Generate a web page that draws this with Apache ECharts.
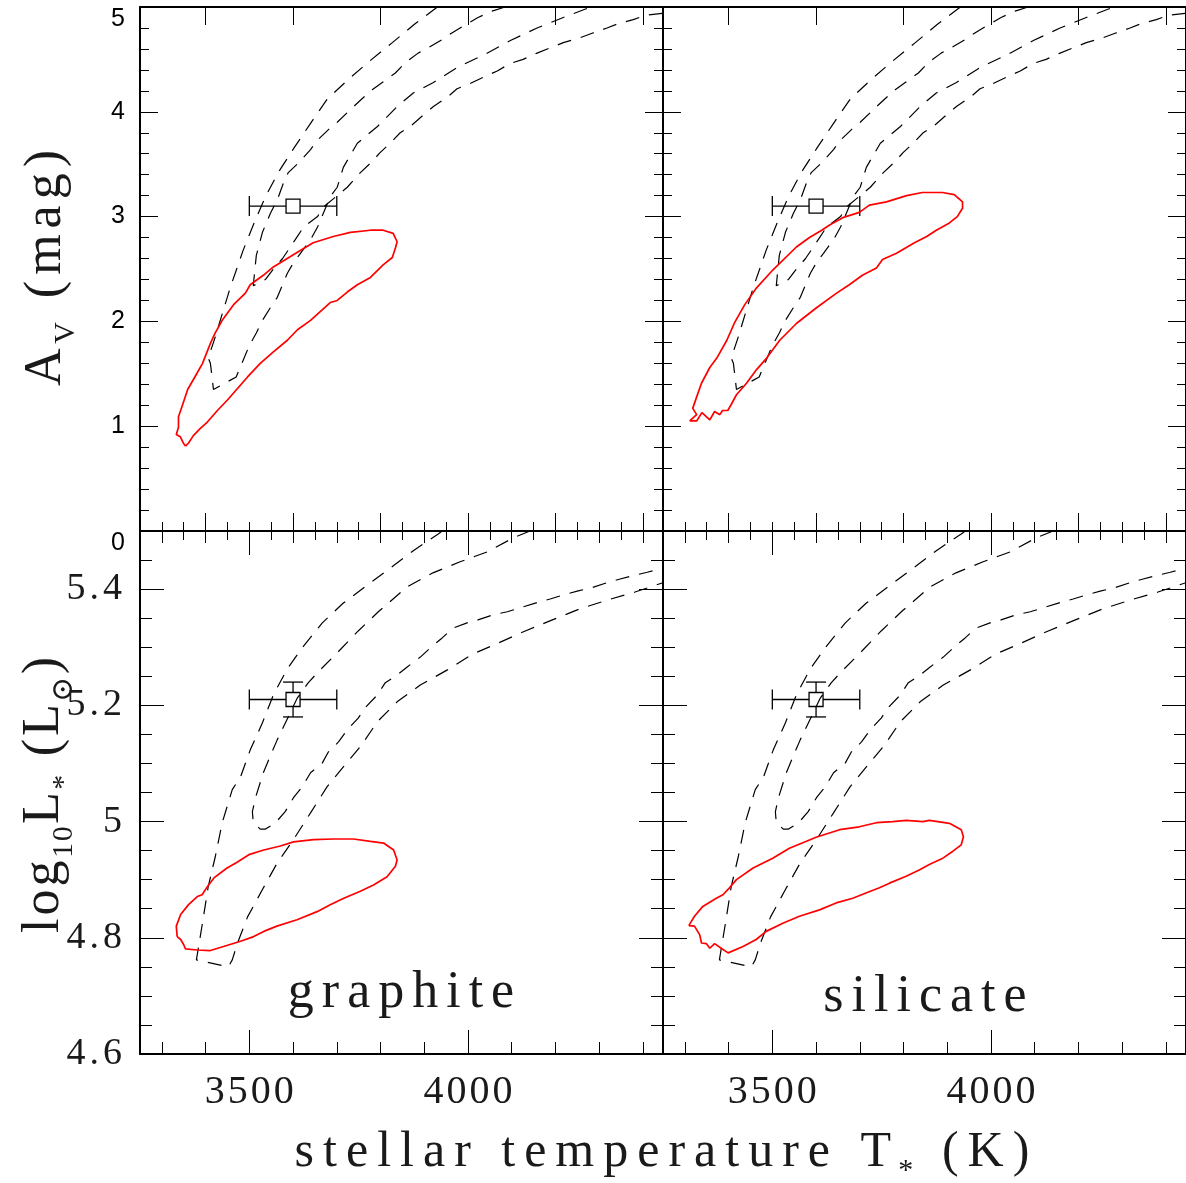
<!DOCTYPE html>
<html>
<head>
<meta charset="utf-8">
<script src="https://cdn.jsdelivr.net/npm/echarts@6/dist/echarts.min.js"></script>
<style>
  html, body { margin: 0; padding: 0; background: #fff; }
  #chart { width: 1186px; height: 1183px; }
</style>
</head>
<body>
<div id="chart"></div>
<script>
// ---------------------------------------------------------------------------
// Axis ranges and tick labels
// ---------------------------------------------------------------------------
const tempMin = 3250, tempMax = 4446;       // stellar temperature (K)
const avMin = 0, avMax = 5;                 // extinction A_V (mag)
const lumMin = 4.6, lumMax = 5.5;           // log10 L* (Lsun)

const tempLabels = [3500, 4000];
const avLabels = [0, 1, 2, 3, 4, 5];
const lumLabels = [4.6, 4.8, 5, 5.2, 5.4];

// Observed star: temperature, A_V and luminosity with their errors
const obsTemp = 3600, obsTempErr = 100;
const obsAv = 3.1, obsAvErr = 0;
const obsLum = 5.21, obsLumErr = 0.03;

// ---------------------------------------------------------------------------
// Constraint bands (dashed), [T, value]
// ---------------------------------------------------------------------------
const avOuterBand = [
  [3930,5.00],[3879,4.84],[3827,4.66],[3774,4.48],[3724,4.30],[3678,4.12],[3640,3.89],
  [3603,3.66],[3566,3.42],[3537,3.19],[3514,2.97],[3486,2.68],[3457,2.33],[3443,2.14],
  [3422,1.85],[3406,1.65],[3411,1.60],[3418,1.35],
  [3470,1.47],[3486,1.63],[3500,1.77],[3516,1.89],[3530,2.01],[3548,2.13],[3564,2.23],
  [3587,2.46],[3601,2.56],[3617,2.65],[3640,2.78],[3656,2.90],[3685,3.19],[3701,3.28],
  [3715,3.47],[3747,3.70],[3793,3.86],[3838,4.05],[3875,4.18],[3921,4.28],[3978,4.43],
  [4035,4.54],[4097,4.68],[4158,4.80],[4218,4.90],[4275,4.99],[4291,5.00]
];
const avInnerBand = [
  [4085,5.00],[4055,4.96],[4023,4.90],[3998,4.84],[3966,4.76],[3941,4.69],[3909,4.61],
  [3886,4.56],[3857,4.47],[3834,4.37],[3804,4.28],[3781,4.21],[3754,4.11],[3731,4.02],
  [3701,3.90],[3681,3.83],[3656,3.73],[3640,3.64],[3612,3.51],[3589,3.42],[3578,3.32],
  [3564,3.16],[3548,3.03],[3530,2.85],[3516,2.63],[3509,2.34],
  [3537,2.40],[3555,2.50],[3576,2.60],[3605,2.78],[3624,2.90],[3656,3.00],[3669,3.09],
  [3724,3.28],[3754,3.42],[3777,3.51],[3799,3.61],[3822,3.70],[3845,3.80],[3868,3.86],
  [3898,3.97],[3921,4.05],[3953,4.14],[3975,4.22],[4005,4.27],[4035,4.33],[4067,4.39],
  [4096,4.46],[4126,4.50],[4158,4.56],[4188,4.61],[4218,4.66],[4252,4.70],[4284,4.75],
  [4318,4.80],[4343,4.84],[4378,4.88],[4405,4.92],[4444,4.94]
];
const lumOuterBand = [
  [3941,5.500],[3932,5.495],[3875,5.466],[3822,5.436],[3770,5.407],[3715,5.376],[3667,5.342],
  [3624,5.302],[3587,5.263],[3555,5.218],[3530,5.170],[3502,5.123],[3480,5.077],[3461,5.055],
  [3438,4.998],[3422,4.939],[3406,4.888],[3393,4.826],[3379,4.762],
  [3452,4.750],
  [3461,4.762],[3473,4.791],[3496,4.836],[3530,4.883],[3564,4.929],[3601,4.969],[3640,5.015],
  [3678,5.060],[3715,5.094],[3754,5.129],[3793,5.172],[3838,5.206],[3891,5.235],[3953,5.261],
  [4010,5.288],[4069,5.307],[4131,5.328],[4193,5.347],[4256,5.366],[4318,5.381],[4382,5.395],
  [4446,5.411]
];
const lumInnerBand = [
  [4142,5.500],[4103,5.488],[4044,5.464],[3982,5.447],[3920,5.428],[3861,5.404],[3795,5.361],
  [3749,5.328],[3703,5.292],[3658,5.258],[3635,5.239],[3610,5.213],[3589,5.180],[3564,5.141],
  [3548,5.113],[3532,5.084],[3514,5.041],[3507,5.017],[3509,4.999],
  [3525,4.987],[3537,4.987],
  [3560,4.998],[3582,5.017],[3601,5.041],[3621,5.060],[3640,5.084],[3667,5.101],[3681,5.120],
  [3704,5.137],[3724,5.158],[3749,5.178],[3765,5.196],[3793,5.218],[3811,5.239],[3838,5.252],
  [3861,5.266],[3891,5.283],[3914,5.299],[3941,5.316],[3966,5.333],[3998,5.342],[4023,5.347],
  [4058,5.356],[4090,5.361],[4124,5.369],[4154,5.376],[4188,5.383],[4218,5.390],[4252,5.397],
  [4282,5.402],[4318,5.411],[4346,5.417],[4382,5.424],[4410,5.429],[4446,5.436]
];

// ---------------------------------------------------------------------------
// Best-fit confidence contours (red), [T, value]
// ---------------------------------------------------------------------------
const avGraphite = [
  [3354,0.81],[3349,0.84],[3342,0.90],[3333,0.92],[3338,0.99],[3338,1.09],[3347,1.20],
  [3359,1.35],[3381,1.51],[3393,1.60],[3411,1.79],[3422,1.89],[3438,2.01],[3464,2.16],
  [3491,2.27],[3502,2.35],[3532,2.44],[3555,2.52],[3610,2.66],[3646,2.75],[3692,2.81],
  [3731,2.85],[3777,2.87],[3806,2.87],[3829,2.84],[3838,2.76],[3834,2.70],[3827,2.61],
  [3806,2.54],[3777,2.42],[3747,2.35],[3724,2.28],[3701,2.20],[3685,2.18],[3640,2.01],
  [3610,1.92],[3587,1.82],[3555,1.71],[3525,1.60],[3496,1.47],[3450,1.25],[3427,1.15],
  [3404,1.04],[3388,0.98],[3372,0.91],[3361,0.84],[3354,0.81]
];
const avSilicate = [
  [3311,1.05],[3327,1.11],[3318,1.17],[3327,1.28],[3338,1.41],[3357,1.56],[3373,1.65],
  [3396,1.82],[3414,1.99],[3437,2.16],[3464,2.32],[3501,2.49],[3555,2.71],[3585,2.80],
  [3613,2.87],[3631,2.92],[3661,2.99],[3699,3.04],[3722,3.11],[3761,3.14],[3807,3.20],
  [3843,3.23],[3889,3.23],[3916,3.21],[3935,3.14],[3935,3.08],[3923,3.00],[3905,2.94],
  [3875,2.87],[3853,2.81],[3825,2.75],[3784,2.65],[3752,2.59],[3738,2.51],[3706,2.44],
  [3676,2.35],[3647,2.27],[3601,2.13],[3555,1.98],[3517,1.82],[3487,1.65],[3464,1.54],
  [3441,1.41],[3418,1.30],[3405,1.20],[3398,1.15],[3386,1.15],[3380,1.11],[3368,1.14],
  [3357,1.06],[3339,1.13],[3327,1.05],[3311,1.05]
];
const lumGraphite = [
  [3335,4.802],[3333,4.820],[3343,4.840],[3361,4.857],[3381,4.871],[3392,4.874],[3404,4.888],
  [3419,4.903],[3449,4.920],[3472,4.930],[3499,4.943],[3533,4.951],[3571,4.958],[3601,4.965],
  [3647,4.969],[3693,4.970],[3738,4.970],[3777,4.966],[3807,4.963],[3830,4.951],[3838,4.934],
  [3834,4.923],[3815,4.905],[3784,4.891],[3754,4.880],[3716,4.868],[3685,4.857],[3655,4.845],
  [3609,4.831],[3563,4.820],[3533,4.811],[3510,4.802],[3480,4.794],[3441,4.785],[3411,4.778],
  [3381,4.779],[3354,4.781],[3350,4.788],[3343,4.797],[3335,4.802]
];
const lumSilicate = [
  [3309,4.821],[3322,4.837],[3341,4.854],[3372,4.868],[3387,4.874],[3402,4.886],[3418,4.900],
  [3456,4.920],[3501,4.937],[3539,4.954],[3578,4.966],[3600,4.973],[3654,4.986],[3699,4.991],
  [3738,4.998],[3775,5.000],[3806,5.002],[3844,5.000],[3859,5.002],[3905,4.997],[3932,4.986],
  [3937,4.974],[3932,4.960],[3913,4.949],[3890,4.937],[3859,4.926],[3837,4.917],[3806,4.906],
  [3768,4.894],[3745,4.886],[3714,4.877],[3684,4.868],[3646,4.860],[3608,4.848],[3562,4.837],
  [3524,4.825],[3486,4.811],[3463,4.797],[3433,4.785],[3399,4.774],[3383,4.782],[3368,4.790],
  [3357,4.782],[3349,4.790],[3338,4.791],[3334,4.805],[3322,4.820],[3309,4.821]
];

// ---------------------------------------------------------------------------
// Layout helpers
// ---------------------------------------------------------------------------
function steps(from, to, step) {
  const out = [];
  const n = Math.round((to - from) / step);
  for (let i = 0; i <= n; i++) out.push(+(from + i * step).toFixed(4));
  return out;
}

const SERIF = "'Liberation Serif', 'DejaVu Serif', serif";
const SANS = "'Liberation Sans', Arial, sans-serif";
const INK = '#000';
const TEXT = '#1a1a1a';

// letter-spaced rich text: parts = [[styleName, text], ...]
function spaced(parts) {
  return parts.map(([s, str]) => Array.from(str).map(ch => '{' + s + '|' + ch + '}').join('')).join('');
}

// four panels: [graphite A_V, silicate A_V, graphite L, silicate L]
const panels = [
  { grid: { left: 140, top: 7, width: 523, height: 524 }, kind: 'av', col: 0 },
  { grid: { left: 663, top: 7, width: 523, height: 524 }, kind: 'av', col: 1 },
  { grid: { left: 140, top: 531, width: 523, height: 523 }, kind: 'lum', col: 0 },
  { grid: { left: 663, top: 531, width: 523, height: 523 }, kind: 'lum', col: 1 }
];

// tick sets
const tickSets = {
  av: {
    xLong: [3400, 3600, 3800, 4000, 4200, 4400], xShort: steps(3300, 4400, 50), xLongLen: 18, xShortLen: 9,
    yLong: avLabels, yShort: steps(0, 5, 0.2), yLongLen: 18, yShortLen: 9
  },
  lum: {
    xLong: tempLabels, xShort: steps(3300, 4400, 100), xLongLen: 24, xShortLen: 12,
    yLong: lumLabels, yShort: steps(4.6, 5.5, 0.05), yLongLen: 24, yShortLen: 12
  }
};

const serifDigit = { fontFamily: SERIF, fontSize: 40, color: TEXT, padding: [0, 1.5, 0, 1.5] };

const xAxes = [], yAxes = [];
panels.forEach((p, gi) => {
  const t = tickSets[p.kind];
  const isBottomRow = p.kind === 'lum';
  const isLeftCol = p.col === 0;
  const common = { gridIndex: gi, type: 'value', splitLine: { show: false } };

  // x axes: bottom (long + short), top (long + short)
  ['bottom', 'top'].forEach(pos => {
    xAxes.push(Object.assign({}, common, {
      position: pos, min: tempMin, max: tempMax,
      axisLine: { show: true, onZero: false, lineStyle: { color: INK, width: 2 } },
      axisTick: { show: true, inside: true, length: t.xLongLen, customValues: t.xLong,
                  lineStyle: { color: INK, width: 1 } },
      axisLabel: (pos === 'bottom' && isBottomRow) ? {
        show: true, customValues: tempLabels, margin: 18,
        fontFamily: SERIF, fontSize: 40, color: TEXT,
        formatter: v => spaced([['d', String(v)]]),
        rich: { d: serifDigit }
      } : { show: false }
    }));
    xAxes.push(Object.assign({}, common, {
      position: pos, min: tempMin, max: tempMax,
      axisLine: { show: false },
      axisTick: { show: true, inside: true, length: t.xShortLen, customValues: t.xShort,
                  lineStyle: { color: INK, width: 1 } },
      axisLabel: { show: false }
    }));
  });

  // y axes: left (long + short), right (long + short)
  const yMin = p.kind === 'av' ? avMin : lumMin;
  const yMax = p.kind === 'av' ? avMax : lumMax;
  ['left', 'right'].forEach(pos => {
    let label = { show: false };
    if (pos === 'left' && isLeftCol) {
      if (p.kind === 'av') {
        label = {
          show: true, customValues: avLabels, margin: 15,
          fontFamily: SANS, fontSize: 25, color: INK,
          formatter: v => String(v),
          // the end labels sit just inside the frame
          verticalAlignMaxLabel: 'top',
          verticalAlignMinLabel: 'top'
        };
      } else {
        label = {
          show: true, customValues: lumLabels, margin: 16,
          fontFamily: SERIF, fontSize: 38, color: TEXT,
          formatter: v => spaced([['d', String(+v.toFixed(1))]]),
          rich: { d: { fontFamily: SERIF, fontSize: 38, color: TEXT, padding: [0, 2, 0, 2] } }
        };
      }
    }
    yAxes.push(Object.assign({}, common, {
      position: pos, min: yMin, max: yMax,
      axisLine: { show: true, onZero: false, lineStyle: { color: INK, width: 2 } },
      axisTick: { show: true, inside: true, length: t.yLongLen, customValues: t.yLong,
                  lineStyle: { color: INK, width: 1 } },
      axisLabel: label
    }));
    yAxes.push(Object.assign({}, common, {
      position: pos, min: yMin, max: yMax,
      axisLine: { show: false },
      axisTick: { show: true, inside: true, length: t.yShortLen, customValues: t.yShort,
                  lineStyle: { color: INK, width: 1 } },
      axisLabel: { show: false }
    }));
  });
});

// observed point with error bars and an open square marker
function renderObservation(params, api) {
  const t = api.value(0), v = api.value(1), dt = api.value(2), dv = api.value(3);
  const c = api.coord([t, v]);
  const xl = api.coord([t - dt, v])[0];
  const xr = api.coord([t + dt, v])[0];
  const h = 7, cap = 10;
  const st = { stroke: INK, lineWidth: 1.3, fill: null };
  const kids = [
    { type: 'rect', shape: { x: c[0] - h, y: c[1] - h, width: 2 * h, height: 2 * h },
      style: { stroke: INK, lineWidth: 1.3, fill: 'rgba(0,0,0,0)' } },
    { type: 'line', shape: { x1: xl, y1: c[1], x2: c[0] - h, y2: c[1] }, style: st },
    { type: 'line', shape: { x1: c[0] + h, y1: c[1], x2: xr, y2: c[1] }, style: st },
    { type: 'line', shape: { x1: xl, y1: c[1] - cap, x2: xl, y2: c[1] + cap }, style: st },
    { type: 'line', shape: { x1: xr, y1: c[1] - cap, x2: xr, y2: c[1] + cap }, style: st }
  ];
  if (dv > 0) {
    const yt = api.coord([t, v + dv])[1];
    const yb = api.coord([t, v - dv])[1];
    kids.push(
      { type: 'line', shape: { x1: c[0], y1: yt, x2: c[0], y2: c[1] - h }, style: st },
      { type: 'line', shape: { x1: c[0], y1: c[1] + h, x2: c[0], y2: yb }, style: st },
      { type: 'line', shape: { x1: c[0] - cap, y1: yt, x2: c[0] + cap, y2: yt }, style: st },
      { type: 'line', shape: { x1: c[0] - cap, y1: yb, x2: c[0] + cap, y2: yb }, style: st }
    );
  }
  return { type: 'group', children: kids };
}

const series = [];
panels.forEach((p, gi) => {
  const axisIdx = { xAxisIndex: gi * 4, yAxisIndex: gi * 4 };
  const bands = p.kind === 'av' ? [avOuterBand, avInnerBand] : [lumOuterBand, lumInnerBand];
  const contour = p.kind === 'av'
    ? (p.col === 0 ? avGraphite : avSilicate)
    : (p.col === 0 ? lumGraphite : lumSilicate);
  bands.forEach(b => series.push(Object.assign({
    type: 'line', data: b, symbol: 'none', silent: true, clip: true,
    lineStyle: { color: INK, width: 1.2, type: [14, 10] }
  }, axisIdx)));
  series.push(Object.assign({
    type: 'line', data: contour, symbol: 'none', silent: true, clip: true,
    lineStyle: { color: '#ff0000', width: 1.7 }
  }, axisIdx));
  const obs = p.kind === 'av'
    ? [[obsTemp, obsAv, obsTempErr, obsAvErr]]
    : [[obsTemp, obsLum, obsTempErr, obsLumErr]];
  series.push(Object.assign({
    type: 'custom', data: obs, renderItem: renderObservation, silent: true,
    encode: { x: 0, y: 1 }
  }, axisIdx));
});

function richSet(size, subSize, gap, lineH) {
  return {
    m: { fontFamily: SERIF, fontSize: size, fill: TEXT, padding: [0, gap, 0, gap],
         lineHeight: lineH, verticalAlign: 'middle' },
    s: { fontFamily: SERIF, fontSize: subSize, fill: TEXT, padding: [0, gap * 0.6, 0, gap * 0.6],
         lineHeight: subSize * 0.4, verticalAlign: 'bottom' }
  };
}

const option = {
  animation: false,
  backgroundColor: '#fff',
  grid: panels.map(p => p.grid),
  xAxis: xAxes,
  yAxis: yAxes,
  series: series,
  graphic: [
    { type: 'text', x: 662, y: 1153, silent: true,
      style: { text: spaced([['m', 'stellar temperature T'], ['s', '*'], ['m', ' (K)']]),
               rich: richSet(50, 30, 4.5, 66), align: 'center', verticalAlign: 'middle' } },
    { type: 'text', x: 46, y: 268, rotation: Math.PI / 2, silent: true,
      style: { text: spaced([['m', 'A'], ['s', 'V'], ['m', ' (mag)']]),
               rich: richSet(52, 30, 3, 70), align: 'center', verticalAlign: 'middle' } },
    { type: 'text', x: 44, y: 795, rotation: Math.PI / 2, silent: true,
      style: { text: spaced([['m', 'log'], ['s', '10'], ['m', 'L'], ['s', '*'], ['m', ' (L'], ['s', '\u2299'], ['m', ')']]),
               rich: richSet(52, 30, 1.5, 70), align: 'center', verticalAlign: 'middle' } },
    { type: 'text', x: 401, y: 993, silent: true,
      style: { text: spaced([['m', 'graphite']]), rich: richSet(52, 30, 4, 64),
               align: 'center', verticalAlign: 'middle' } },
    { type: 'text', x: 925, y: 997, silent: true,
      style: { text: spaced([['m', 'silicate']]), rich: richSet(52, 30, 4, 64),
               align: 'center', verticalAlign: 'middle' } }
  ]
};

const chart = echarts.init(document.getElementById('chart'), null, { renderer: 'canvas' });
chart.setOption(option);
</script>
</body>
</html>
